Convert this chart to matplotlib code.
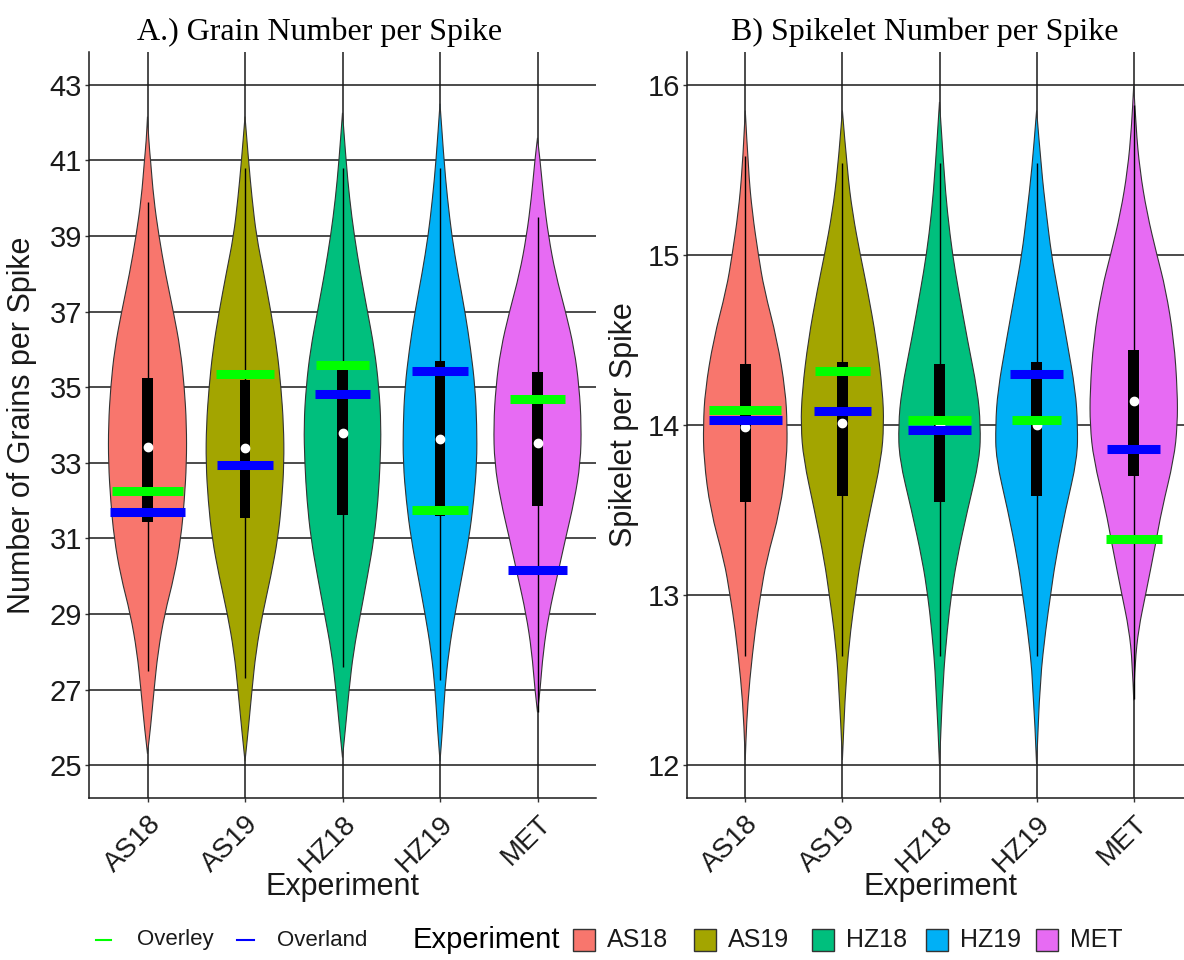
import matplotlib.pyplot as plt
from matplotlib.patches import Rectangle, PathPatch
from matplotlib.lines import Line2D
from matplotlib.path import Path

experiments = ["AS18", "AS19", "HZ18", "HZ19", "MET"]
fills = ["#F8766D", "#A3A500", "#00BF7D", "#00B0F6", "#E76BF3"]

# ---- A) grain number per spike ----
# violin outlines as (value, density relative to the widest violin)
grain_as18 = [(42.16, 0), (41.5, .03), (41, .07), (40, .14), (39, .26), (38, .41), (37, .59),
              (36, .75), (35, .84), (34, .89), (33, .89), (32, .84), (31, .76), (30, .61),
              (29, .39), (28, .24), (27, .15), (26, .07), (25.3, 0)]
grain_as19 = [(42.16, 0), (41, .08), (40, .16), (39, .26), (38, .43), (37, .59), (36, .73),
              (35, .82), (34, .88), (33, .89), (32, .84), (31, .75), (30, .59), (29, .40),
              (28, .25), (27, .16), (26, .08), (25.1, 0)]
grain_hz18 = [(42.26, 0), (41, .08), (40, .16), (39, .27), (38, .41), (37, .57), (36, .73),
              (35, .83), (34, .88), (33, .86), (32, .81), (31, .72), (30, .57), (29, .41),
              (28, .25), (27, .15), (26, .07), (25.2, 0)]
grain_hz19 = [(42.5, 0), (41, .09), (40, .17), (39, .27), (38, .41), (37, .57), (36, .70),
              (35, .80), (34, .84), (33, .84), (32, .77), (31, .66), (30, .50), (29, .34),
              (28, .20), (27, .11), (26, .06), (25.1, 0)]
grain_met = [(41.6, 0), (41, .06), (40, .14), (39, .25), (38, .41), (37, .64), (36, .84),
             (35, .95), (34, 1.0), (33, .98), (32, .84), (31, .64), (30, .45), (29, .26),
             (28, .13), (27, .06), (26.4, 0)]

grain_whisker_low = [27.5, 27.3, 27.6, 27.25, 26.4]
grain_whisker_high = [39.9, 40.8, 40.8, 40.8, 39.5]
grain_q1 = [31.44, 31.53, 31.62, 31.60, 31.86]
grain_q3 = [35.24, 35.19, 35.46, 35.70, 35.40]
grain_centre = [33.43, 33.38, 33.78, 33.63, 33.53]
grain_overley = [32.26, 35.34, 35.59, 31.75, 34.68]
grain_overland = [31.71, 32.94, 34.81, 35.43, 30.16]
grain_ticks = [25, 27, 29, 31, 33, 35, 37, 39, 41, 43]

# ---- B) spikelet number per spike ----
spike_as18 = [(15.85, 0), (15.5, .07), (15.25, .16), (15, .30), (14.8, .43), (14.5, .73),
              (14.2, .92), (14, .96), (13.8, .95), (13.5, .80), (13.2, .48), (13, .35),
              (12.8, .23), (12.5, .10), (12.25, .03), (12.03, 0)]
spike_as19 = [(15.85, 0), (15.5, .11), (15.25, .23), (15, .41), (14.8, .57), (14.5, .78),
              (14.2, .92), (14, .95), (13.8, .89), (13.5, .64), (13.2, .41), (13, .30),
              (12.8, .19), (12.5, .08), (12.03, 0)]
spike_hz18 = [(15.9, 0), (15.5, .10), (15.25, .18), (15, .30), (14.8, .43), (14.5, .64),
              (14.2, .87), (14, .94), (13.8, .92), (13.5, .64), (13.2, .39), (13, .27),
              (12.8, .18), (12.5, .08), (12.0, 0)]
spike_hz19 = [(15.85, 0), (15.5, .11), (15.25, .22), (15, .34), (14.8, .48), (14.5, .69),
              (14.2, .89), (14, .94), (13.8, .93), (13.5, .66), (13.2, .43), (13, .32),
              (12.8, .21), (12.5, .08), (12.0, 0)]
spike_met = [(16.0, 0), (15.75, .05), (15.5, .14), (15.25, .30), (15, .53), (14.8, .73),
             (14.5, .92), (14.2, 1.0), (14, 1.0), (13.8, .92), (13.5, .64), (13.3, .50),
             (13, .27), (12.8, .11), (12.6, .03), (12.38, 0)]

spike_whisker_low = [12.64, 12.64, 12.64, 12.64, 12.39]
spike_whisker_high = [15.58, 15.54, 15.54, 15.54, 15.88]
spike_q1 = [13.55, 13.58, 13.55, 13.58, 13.70]
spike_q3 = [14.36, 14.37, 14.36, 14.37, 14.44]
spike_centre = [13.99, 14.01, 14.00, 14.00, 14.14]
spike_overley = [14.09, 14.32, 14.03, 14.03, 13.33]
spike_overland = [14.03, 14.08, 13.97, 14.30, 13.86]
spike_ticks = [12, 13, 14, 15, 16]

# widths of the cultivar bars (x units)
grain_green_w = [0.72, 0.60, 0.55, 0.58, 0.57]
grain_blue_w = [0.77, 0.58, 0.57, 0.58, 0.60]
spike_green_w = [0.74, 0.56, 0.65, 0.50, 0.58]
spike_blue_w = [0.75, 0.58, 0.65, 0.55, 0.55]

W, H = 1184, 960
plt.rcParams['font.family'] = ['Liberation Sans', 'DejaVu Sans']
fig = plt.figure(figsize=(W / 100, H / 100), dpi=100)


def box(x0, y0, x1, y1):
    return [x0 / W, 1 - y1 / H, (x1 - x0) / W, (y1 - y0) / H]


def smooth_side(pts, verts, codes):
    # quadratic bezier through midpoints, the outline points acting as controls
    for i in range(1, len(pts) - 1):
        nxt = pts[i + 1]
        mid = ((pts[i][0] + nxt[0]) / 2, (pts[i][1] + nxt[1]) / 2)
        verts += [pts[i], mid]
        codes += [Path.CURVE3, Path.CURVE3]
    verts.append(pts[-1])
    codes.append(Path.LINETO)


def violin_path(x, prof, half=0.45):
    right = [(x + d * half, y) for y, d in prof]
    left = [(x - d * half, y) for y, d in prof][::-1]
    verts, codes = [right[0]], [Path.MOVETO]
    smooth_side(right, verts, codes)
    smooth_side(left, verts, codes)
    verts.append(right[0])
    codes.append(Path.CLOSEPOLY)
    return Path(verts, codes)


def draw_panel(ax, profiles, wlo, whi, q1, q3, centre, overley, overland,
               green_w, blue_w, ticks, ylim):
    ax.set_xlim(0.4, 5.6)
    ax.set_ylim(*ylim)
    pos = list(range(1, len(experiments) + 1))
    for x in pos:
        ax.axvline(x, color="#1a1a1a", lw=1.1, zorder=0)
    for t in ticks:
        ax.axhline(t, color="#1a1a1a", lw=1.1, zorder=0)
    for i, (prof, col) in enumerate(zip(profiles, fills)):
        x = pos[i]
        ax.add_patch(PathPatch(violin_path(x, prof), facecolor=col,
                               edgecolor="#333333", lw=0.8, zorder=1))
        ax.vlines(x, wlo[i], whi[i], color="black", lw=1.0, zorder=2)
        ax.bar(x, q3[i] - q1[i], bottom=q1[i], width=0.11, color="black", zorder=3)
        ax.plot(x, centre[i], "o", color="white", ms=6, mec="white", zorder=4)
        ax.hlines(overley[i], x - green_w[i] / 2, x + green_w[i] / 2,
                  color="#00FF00", lw=6.5, zorder=5)
        ax.hlines(overland[i], x - blue_w[i] / 2, x + blue_w[i] / 2,
                  color="#0000FF", lw=6.5, zorder=6)
    ax.set_xticks(pos)
    ax.set_xticklabels(experiments, rotation=45, ha="right", va="top",
                       rotation_mode="anchor", fontsize=20, color="#1a1a1a")
    ax.set_yticks(ticks)
    ax.set_yticklabels([str(t) for t in ticks], fontsize=21, color="#1a1a1a")
    ax.tick_params(axis="x", length=3, width=1, pad=6, color="#333333")
    ax.tick_params(axis="y", length=3, width=1, pad=2, color="#333333")
    for s in ("top", "right"):
        ax.spines[s].set_visible(False)
    for s in ("left", "bottom"):
        ax.spines[s].set_color("#1a1a1a")
        ax.spines[s].set_linewidth(1.1)


ax1 = fig.add_axes(box(89, 52, 596, 798))
ax2 = fig.add_axes(box(687, 52, 1192, 798))

draw_panel(ax1, [grain_as18, grain_as19, grain_hz18, grain_hz19, grain_met],
           grain_whisker_low, grain_whisker_high, grain_q1, grain_q3, grain_centre,
           grain_overley, grain_overland, grain_green_w, grain_blue_w,
           grain_ticks, (24.13, 43.87))
draw_panel(ax2, [spike_as18, spike_as19, spike_hz18, spike_hz19, spike_met],
           spike_whisker_low, spike_whisker_high, spike_q1, spike_q3, spike_centre,
           spike_overley, spike_overland, spike_green_w, spike_blue_w,
           spike_ticks, (11.806, 16.194))

# titles and axis titles
serif = ["Liberation Serif", "DejaVu Serif"]
fig.text(320 / W, 1 - 40 / H, "A.) Grain Number per Spike", family=serif,
         fontsize=23, ha="center", va="baseline")
fig.text(925 / W, 1 - 40 / H, "B) Spikelet Number per Spike", family=serif,
         fontsize=23, ha="center", va="baseline")
fig.text(22 / W, 1 - 425 / H, "Number of Grains per Spike", rotation=90,
         fontsize=22, ha="center", va="center", color="#1a1a1a")
fig.text(624 / W, 1 - 425 / H, "Spikelet per Spike", rotation=90,
         fontsize=22, ha="center", va="center", color="#1a1a1a")
fig.text(342 / W, 1 - 887 / H, "Experiment", fontsize=22, ha="center",
         va="center", color="#1a1a1a")
fig.text(940 / W, 1 - 887 / H, "Experiment", fontsize=22, ha="center",
         va="center", color="#1a1a1a")

# legend row
ly = 1 - 940 / H
fig.add_artist(Line2D([96 / W, 111 / W], [ly, ly], color="#00FF00", lw=1.5))
fig.text(137 / W, ly, "Overley", fontsize=16, va="center", color="#1a1a1a")
fig.add_artist(Line2D([237 / W, 254 / W], [ly, ly], color="#0000FF", lw=1.5))
fig.text(277 / W, ly, "Overland", fontsize=16, va="center", color="#1a1a1a")
fig.text(413 / W, ly, "Experiment", fontsize=21, va="center", color="black")
box_x = [573, 694, 812, 926, 1036]
for bx, name, col in zip(box_x, experiments, fills):
    fig.add_artist(Rectangle((bx / W, 1 - 951 / H), 22 / W, 22 / H,
                             facecolor=col, edgecolor="#333333", lw=1.0))
    fig.text((bx + 34) / W, ly, name, fontsize=18, va="center", color="#1a1a1a")

fig.savefig("out.png", dpi=100)
